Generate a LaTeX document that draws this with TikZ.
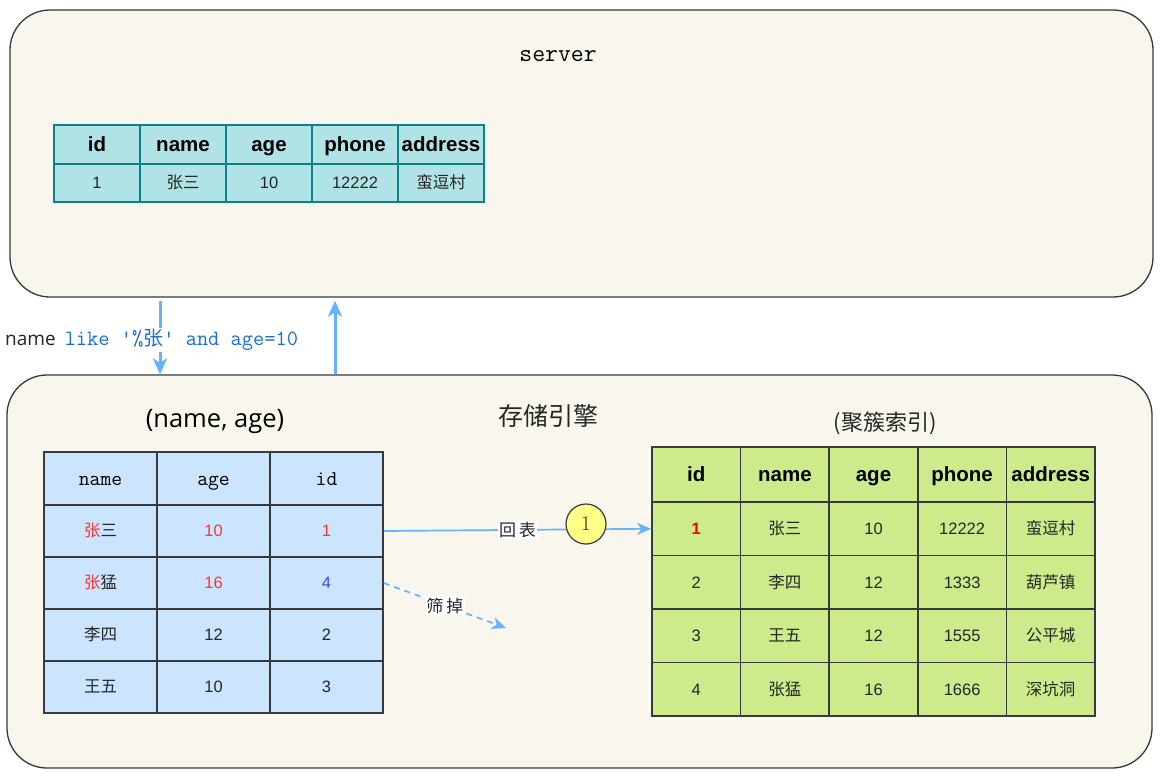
\documentclass[tikz,border=0pt]{standalone}
\usepackage{fontspec}
\setmainfont{Liberation Sans}
\newfontfamily\cjk{Noto Sans CJK SC}
\newfontfamily\osans{Open Sans}
\newfontfamily\lmserif{Latin Modern Roman}
\usetikzlibrary{arrows.meta,calc}
\definecolor{bgc}{HTML}{F9F7ED}
\definecolor{bd}{HTML}{36393D}
\definecolor{tealf}{HTML}{B0E3E6}
\definecolor{teald}{HTML}{0E8088}
\definecolor{bluef}{HTML}{CCE5FF}
\definecolor{greenf}{HTML}{CDEB8B}
\definecolor{ablue}{HTML}{66B2FF}
\definecolor{qblue}{HTML}{1A6FD0}
\definecolor{redt}{HTML}{FF3333}
\definecolor{bluet}{HTML}{4646FF}
\definecolor{yel}{HTML}{FFFF88}
\definecolor{txt}{HTML}{262626}
\newcommand\fsz[1]{\fontsize{#1}{#1}\selectfont}
\newcommand\lrow[5]{%
  \node[lcell] (l#11) at (100.5,#2) {#3};
  \node[lcell] (l#12) at (213.5,#2) {#4};
  \node[lcell] (l#13) at (326.5,#2) {#5};}
\begin{document}
\begin{tikzpicture}[x=1pt,y=-1pt,
  bigbox/.style={draw=bd, fill=bgc, line width=1.3pt, rounded corners=40pt, rectangle, inner sep=0},
  cellbase/.style={rectangle, inner sep=0, line width=1.6pt, text=txt, font=\fsz{16.5}, text height=12pt, text depth=0.2pt},
  scell/.style={cellbase, draw=teald, fill=tealf, minimum width=86pt},
  lcell/.style={cellbase, draw=bd, fill=bluef, minimum width=113pt, minimum height=52pt},
  rcell/.style={cellbase, draw=bd, fill=greenf, minimum width=88.6pt},
  hdr/.style={font=\fsz{20.5}\bfseries, text=black, text height=15pt, text depth=0.3pt},
  mhdr/.style={font=\ttfamily\fsz{21}, text=black, text height=14pt, text depth=0pt},
  arr/.style={draw=ablue, line width=1.7pt, -{Stealth[length=14pt,width=12pt,inset=4pt]}},
  varr/.style={draw=ablue, line width=3pt, -{Stealth[length=16pt,width=14pt,inset=4.5pt]}},
  lbl/.style={fill=white, inner sep=1.5pt, font=\cjk\fsz{17}, text=txt}]
\useasboundingbox (0,0) rectangle (1164,780);
\fill[white] (0,0) rectangle (1164,780);
% big boxes
\node[bigbox, minimum width=1143pt, minimum height=287pt] (server) at (581.5,153.5) {};
\node[bigbox, minimum width=1145pt, minimum height=393pt] (engine) at (579.5,571.5) {};
\node[font=\ttfamily\fsz{25}, text=black] (t1) at (558,56) {server};
\node[font=\cjk\fsz{25}, text=txt] (t2) at (548,416) {存储引擎};
\node[font=\osans\fsz{25.5}, text=black] (t3) at (215,421) {(name, age)};
\node[font=\cjk\fsz{22}, text=txt] (t4) at (885,423) {(聚簇索引)};
% server table
\foreach \t [count=\i] in {id,name,age,phone,address}
  \node[scell, hdr, minimum height=39pt] (s0\i) at ({54+86*(\i-0.5)},144.5) {\t};
\foreach \t [count=\i] in {1,{\cjk 张三},10,12222,{\cjk 蛮逗村}}
  \node[scell, minimum height=38pt] (s1\i) at ({54+86*(\i-0.5)},183) {\t};
% vertical arrows
\coordinate (xa) at (160,0);
\coordinate (xb) at (335,0);
\draw[varr] ($(server.south -| xa)+(0,3)$) -- (engine.north -| xa);
\draw[varr] (engine.north -| xb) -- ($(server.south -| xb)+(0,3)$);
\node[fill=white, anchor=west, inner sep=1pt] (q) at (4,340)
  {{\osans\fsz{19}\color{txt}name}\hspace{9pt}{\ttfamily\fsz{21.8}\color{qblue}like \textquotesingle\%{\cjk\fsz{20}张}\textquotesingle{} and age=10}};
% left index table
\node[lcell, mhdr, minimum height=53pt] (l01) at (100.5,478.5) {name};
\node[lcell, mhdr, minimum height=53pt] (l02) at (213.5,478.5) {age};
\node[lcell, mhdr, minimum height=53pt] (l03) at (326.5,478.5) {id};
\lrow{1}{531}{{\cjk\color{redt}张\color{txt}三}}{\color{redt}10}{\color{redt}1}
\lrow{2}{583}{{\cjk\color{redt}张\color{txt}猛}}{\color{redt}16}{\color{bluet}4}
\lrow{3}{635}{{\cjk 李四}}{12}{2}
\lrow{4}{687}{{\cjk 王五}}{10}{3}
% right clustered table
\node[rcell, hdr, minimum height=55pt] (r01) at (696.3,474.5) {id};
\node[rcell, hdr, minimum height=55pt] (r02) at (784.9,474.5) {name};
\node[rcell, hdr, minimum height=55pt] (r03) at (873.5,474.5) {age};
\node[rcell, hdr, minimum height=55pt] (r04) at (962.1,474.5) {phone};
\node[rcell, hdr, minimum height=55pt] (r05) at (1050.7,474.5) {address};
\node[rcell, minimum height=53.5pt, font=\fsz{16.5}\bfseries, text=red] (r11) at (696.3,528.75) {1};
\node[rcell, minimum height=53.5pt] (r12) at (784.9,528.75) {\cjk 张三};
\node[rcell, minimum height=53.5pt] (r13) at (873.5,528.75) {10};
\node[rcell, minimum height=53.5pt] (r14) at (962.1,528.75) {12222};
\node[rcell, minimum height=53.5pt] (r15) at (1050.7,528.75) {\cjk 蛮逗村};
\node[rcell, minimum height=53.5pt] (r21) at (696.3,582.25) {2};
\node[rcell, minimum height=53.5pt] (r22) at (784.9,582.25) {\cjk 李四};
\node[rcell, minimum height=53.5pt] (r23) at (873.5,582.25) {12};
\node[rcell, minimum height=53.5pt] (r24) at (962.1,582.25) {1333};
\node[rcell, minimum height=53.5pt] (r25) at (1050.7,582.25) {\cjk 葫芦镇};
\node[rcell, minimum height=53.5pt] (r31) at (696.3,635.75) {3};
\node[rcell, minimum height=53.5pt] (r32) at (784.9,635.75) {\cjk 王五};
\node[rcell, minimum height=53.5pt] (r33) at (873.5,635.75) {12};
\node[rcell, minimum height=53.5pt] (r34) at (962.1,635.75) {1555};
\node[rcell, minimum height=53.5pt] (r35) at (1050.7,635.75) {\cjk 公平城};
\node[rcell, minimum height=53.5pt] (r41) at (696.3,689.25) {4};
\node[rcell, minimum height=53.5pt] (r42) at (784.9,689.25) {\cjk 张猛};
\node[rcell, minimum height=53.5pt] (r43) at (873.5,689.25) {16};
\node[rcell, minimum height=53.5pt] (r44) at (962.1,689.25) {1666};
\node[rcell, minimum height=53.5pt] (r45) at (1050.7,689.25) {\cjk 深坑洞};
% connectors
\draw[arr] (l13.east) -- node[lbl, midway] (hb) {回\,表} (r11.west);
\node[circle, draw=bd, fill=yel, line width=1.2pt, minimum size=40pt, inner sep=0, font=\lmserif\fsz{21}, text=txt] (c1) at (586,524) {1};
\coordinate (fend) at (506,628);
\draw[arr, dash pattern=on 6pt off 5pt] (l23.east) -- node[lbl, midway] (sd) {筛\,掉} (fend);
\end{tikzpicture}
\end{document}
